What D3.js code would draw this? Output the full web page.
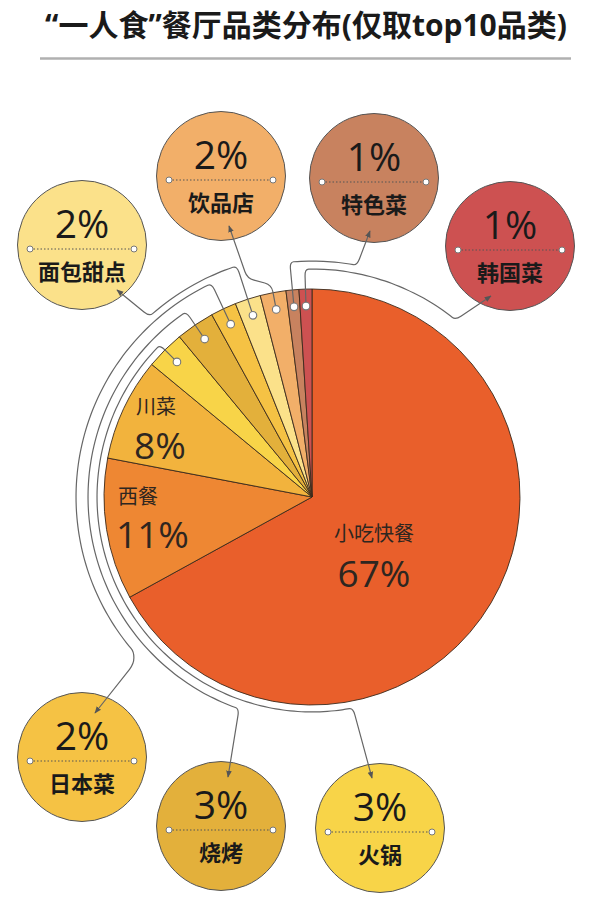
<!DOCTYPE html>
<html>
<head>
<meta charset="utf-8">
<script src="https://cdn.jsdelivr.net/npm/d3@7"></script>
<style>
  html, body { margin: 0; padding: 0; background: #fff; }
  svg { display: block; }
  text { font-family: 'Open Sans', 'Noto Sans CJK SC', sans-serif; }
  .cjk { font-family: 'Noto Sans CJK SC', sans-serif; }
</style>
</head>
<body>
<div id="chart"></div>
<script>
// ---------------- data ----------------
const title = "“一人食”餐厅品类分布(仅取top10品类)";
const categories = ["小吃快餐", "西餐", "川菜", "火锅", "烧烤", "日本菜", "面包甜点", "饮品店", "特色菜", "韩国菜"];
const shares = [67, 11, 8, 3, 3, 2, 2, 2, 1, 1];
const colors = ["#E95F2B", "#EE8733", "#F2B33D", "#F8D448", "#E3B03B", "#F5C244", "#FBE18A", "#F2AF69", "#C8825F", "#CD5151"];

// ---------------- layout ----------------
const W = 614, H = 910;
const cx = 312, cy = 497, R = 208;
const dotR = 191;
const deg = d => d * Math.PI / 180;
const polar = (a, r) => [cx + r * Math.sin(a), cy - r * Math.cos(a)];

const svg = d3.select("#chart").append("svg").attr("width", W).attr("height", H);

// title
svg.append("text")
  .attr("x", 306).attr("y", 36)
  .attr("text-anchor", "middle")
  .attr("font-size", 30).attr("font-weight", "bold").attr("fill", "#1a1a1a")
  .text(title);
svg.append("line").attr("x1", 40).attr("x2", 571).attr("y1", 58.5).attr("y2", 58.5)
  .attr("stroke", "#b0b0b0").attr("stroke-width", 2.5);

// arrow marker
svg.append("defs").append("marker")
  .attr("id", "arr").attr("viewBox", "0 0 10 10")
  .attr("refX", 9).attr("refY", 5)
  .attr("markerWidth", 7).attr("markerHeight", 7)
  .attr("markerUnits", "userSpaceOnUse")
  .attr("orient", "auto")
  .append("path").attr("d", "M0,1 L10,5 L0,9 Z").attr("fill", "#555");

// pie
const pie = d3.pie().sort(null).value(d => d).startAngle(0).endAngle(2 * Math.PI);
const arcs = pie(shares);
const arcGen = d3.arc().innerRadius(0).outerRadius(R);

svg.append("g").selectAll("path").data(arcs).join("path")
  .attr("transform", `translate(${cx},${cy})`)
  .attr("d", arcGen)
  .attr("fill", (d, i) => colors[i])
  .attr("stroke", "#3b2a1c").attr("stroke-width", 0.9).attr("stroke-linejoin", "round");

// labels inside pie (big slices)
const inLabels = [
  { i: 0, x: 374, y1: 541, y2: 587, anchor: "middle" },
  { i: 1, x: 118, y1: 504, y2: 548, anchor: "start" },
  { i: 2, x: 136, y1: 414, y2: 459, anchor: "start" }
];
const inG = svg.append("g");
inLabels.forEach(l => {
  inG.append("text").attr("class", "cjk").attr("x", l.x).attr("y", l.y1)
    .attr("text-anchor", l.anchor).attr("font-size", 20).attr("fill", "#2e2620")
    .text(categories[l.i]);
  inG.append("text").attr("x", l.x - (l.anchor === "start" ? 2 : 0)).attr("y", l.y2)
    .attr("text-anchor", l.anchor).attr("font-size", 37).attr("fill", "#2e2620")
    .text(shares[l.i] + "%");
});

// bubbles for small slices
const bubbleR = 64.5;
const bubbles = [
  { i: 3, x: 380, y: 828 },
  { i: 4, x: 221, y: 826 },
  { i: 5, x: 82, y: 757 },
  { i: 6, x: 82, y: 245 },
  { i: 7, x: 221, y: 176 },
  { i: 8, x: 374, y: 178 },
  { i: 9, x: 510, y: 246 }
];
const bG = svg.append("g");
bubbles.forEach(b => {
  bG.append("circle").attr("cx", b.x).attr("cy", b.y).attr("r", bubbleR)
    .attr("fill", colors[b.i]).attr("stroke", "#555").attr("stroke-width", 1);
});

// leader paths
function arcPts(r, a0, a1) {
  const n = Math.max(2, Math.ceil(Math.abs(a1 - a0) / deg(2)));
  return d3.range(n + 1).map(k => polar(a0 + (a1 - a0) * k / n, r));
}
function roundedPath(pts, rad) {
  let p = `M${pts[0][0]},${pts[0][1]}`;
  for (let k = 1; k < pts.length - 1; k++) {
    const [px, py] = pts[k - 1], [x, y] = pts[k], [nx, ny] = pts[k + 1];
    const l1 = Math.hypot(px - x, py - y), l2 = Math.hypot(nx - x, ny - y);
    const d1 = Math.min(rad, l1 / 2), d2 = Math.min(rad, l2 / 2);
    const ax = x + (px - x) / l1 * d1, ay = y + (py - y) / l1 * d1;
    const bx = x + (nx - x) / l2 * d2, by = y + (ny - y) / l2 * d2;
    p += `L${ax},${ay}Q${x},${y} ${bx},${by}`;
  }
  const last = pts[pts.length - 1];
  p += `L${last[0]},${last[1]}`;
  return p;
}
const mid = i => (arcs[i].startAngle + arcs[i].endAngle) / 2;

const leaders = [
  { i: 3, pts: m => [polar(m, dotR), ...arcPts(215, m, deg(169)), [372, 778]] },
  { i: 4, pts: m => [polar(m, dotR), ...arcPts(224, m, deg(199)), [228, 777]] },
  { i: 5, pts: m => { const a = arcPts(236, m, deg(229)); const e = a[a.length - 1];
      return [polar(m, dotR), ...a, [e[0], e[1] + 12], [95, 713]]; } },
  { i: 6, pts: m => [polar(m, dotR), ...arcPts(243, m, deg(318)), [117, 290]] },
  { i: 7, pts: m => [polar(m, dotR), polar(m, 216), polar(deg(343.5), 228), [229, 226]] },
  { i: 8, pts: m => [polar(m, dotR), ...arcPts(236, m, deg(371)), [370, 231]] },
  { i: 9, pts: m => [polar(m, dotR), ...arcPts(228, m, deg(399)), [491, 296]] }
];
const lG = svg.append("g");
leaders.forEach(l => {
  lG.append("path").attr("d", roundedPath(l.pts(mid(l.i)), 7))
    .attr("fill", "none").attr("stroke", "#666").attr("stroke-width", 1.2)
    .attr("marker-end", "url(#arr)");
});
// dots on slices
lG.selectAll("circle.dot").data(leaders).join("circle").attr("class", "dot")
  .attr("cx", l => polar(mid(l.i), dotR)[0]).attr("cy", l => polar(mid(l.i), dotR)[1])
  .attr("r", 3.8).attr("fill", "#fff").attr("stroke", "#777").attr("stroke-width", 1.1);

// bubble texts
bubbles.forEach(b => {
  bG.append("text").attr("x", b.x).attr("y", b.y - 7).attr("text-anchor", "middle")
    .attr("font-size", 39).attr("fill", "#1a1a1a").text(shares[b.i] + "%");
  bG.append("line").attr("x1", b.x - 52).attr("x2", b.x + 52).attr("y1", b.y + 4).attr("y2", b.y + 4)
    .attr("stroke", "#555").attr("stroke-width", 1).attr("stroke-dasharray", "1.5,2");
  [-52, 52].forEach(dx => bG.append("circle").attr("cx", b.x + dx).attr("cy", b.y + 4).attr("r", 3)
    .attr("fill", "#fff").attr("stroke", "#777").attr("stroke-width", 1));
  bG.append("text").attr("class", "cjk").attr("x", b.x).attr("y", b.y + 35).attr("text-anchor", "middle")
    .attr("font-size", 22).attr("font-weight", "bold").attr("fill", "#1a1a1a").text(categories[b.i]);
});
</script>
</body>
</html>
